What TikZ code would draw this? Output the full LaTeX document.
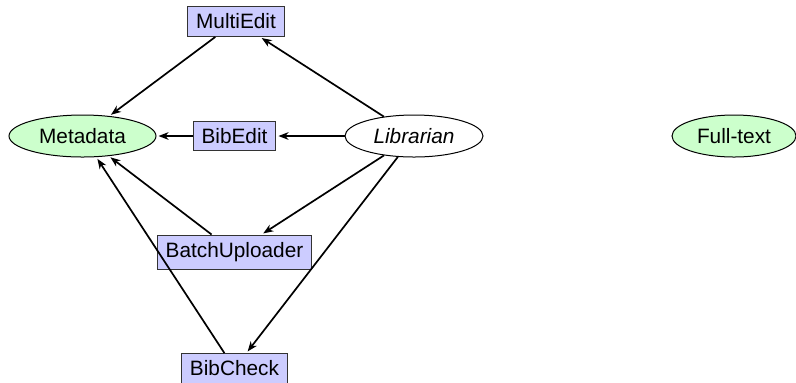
\documentclass[tikz,border=0pt]{standalone}
\usepackage{fontspec}
\setmainfont{Liberation Sans}
\usetikzlibrary{shapes.geometric,arrows.meta}
\definecolor{boxfill}{HTML}{CCCCFF}
\definecolor{ellfill}{HTML}{CCFFCC}
\definecolor{boxline}{HTML}{333333}
\begin{document}
\begin{tikzpicture}[x=0.5pt,y=-0.5pt,
  font=\fontsize{10.4}{12}\selectfont,
  tool/.style={draw=boxline,line width=0.5pt,fill=boxfill,inner xsep=4.25pt,inner ysep=3.65pt},
  data/.style={ellipse,draw=black,line width=0.5pt,fill=ellfill,inner sep=0pt,minimum height=21pt},
  actor/.style={ellipse,draw=black,line width=0.5pt,fill=white,inner sep=0pt,minimum height=21pt,font=\fontsize{10.4}{12}\selectfont\itshape},
  link/.style={line width=0.85pt,-{Stealth[length=5pt,width=3.8pt,inset=1.5pt]},shorten >=1pt}
]
\useasboundingbox (0,0) rectangle (796,382);
\node[data,minimum width=73.5pt] (meta) at (82.5,136) {Metadata};
\node[actor,minimum width=69pt] (lib) at (414,136) {Librarian};
\node[data,minimum width=62pt] (full) at (734,136) {Full-text};
\node[tool] (multi) at (236,21.5) {MultiEdit};
\node[tool] (bibedit) at (234.5,136) {BibEdit};
\node[tool] (batch) at (234.5,252) {BatchUploader};
\node[tool] (bibcheck) at (234.5,368.5) {BibCheck};
\draw[link] (bibedit) -- (meta);
\draw[link] (lib) -- (bibedit);
\draw[link] (lib) -- (multi);
\draw[link] (multi) -- (meta);
\draw[link] (lib) -- (batch);
\draw[link] (batch) -- (meta);
\draw[link] (lib) -- (bibcheck);
\draw[link] (bibcheck) -- (meta);
\end{tikzpicture}
\end{document}
